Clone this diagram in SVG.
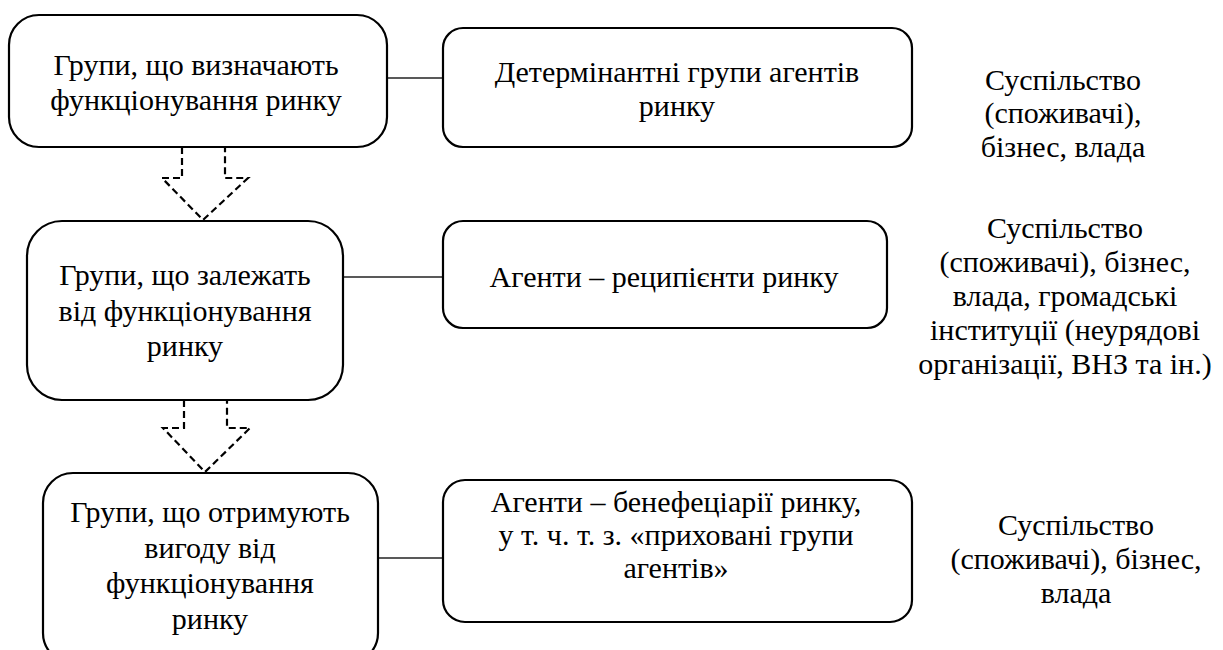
<svg xmlns="http://www.w3.org/2000/svg" width="1223" height="650" viewBox="0 0 1223 650">
<style>
.box{fill:#fff;stroke:#000;stroke-width:2.2}
text{font-family:'Liberation Serif','Times New Roman',serif;font-size:30px;fill:#000;text-anchor:middle}
.ln{stroke:#222;stroke-width:1.4;fill:none}
.arr{fill:none;stroke:#000;stroke-width:2.2;stroke-dasharray:7,4}
</style>
<rect width="1223" height="650" fill="#fff"/>
<g id="connectors">
<line class="ln" x1="387" y1="78" x2="443" y2="78"/>
<line class="ln" x1="343" y1="277" x2="443" y2="277"/>
<line class="ln" x1="378" y1="558" x2="443" y2="558"/>
<path class="arr" d="M182,147 V178 H162 L203,220 L248,178 H225 V147"/>
<path class="arr" d="M184,400 V428 H163 L205,472 L250,428 H227 V400"/>
</g>
<g id="n1">
<rect class="box" x="9" y="15" width="378" height="132" rx="30"/>
<text x="196" y="75">Групи, що визначають</text>
<text x="196" y="110">функціонування ринку</text>
</g>
<g id="n2">
<rect class="box" x="443" y="28" width="469" height="119" rx="20"/>
<text x="677" y="82">Детермінантні групи агентів</text>
<text x="677" y="116">ринку</text>
</g>
<g id="n3">
<text x="1063" y="90">Суспільство</text>
<text x="1063" y="123">(споживачі),</text>
<text x="1063" y="157">бізнес, влада</text>
</g>
<g id="n4">
<rect class="box" x="27" y="221" width="316" height="179" rx="35"/>
<text x="185" y="285">Групи, що залежать</text>
<text x="185" y="321">від функціонування</text>
<text x="185" y="356">ринку</text>
</g>
<g id="n5">
<rect class="box" x="443" y="221" width="444" height="107" rx="20"/>
<text x="664" y="287">Агенти – реципієнти ринку</text>
</g>
<g id="n6">
<text x="1065" y="238">Суспільство</text>
<text x="1065" y="272">(споживачі), бізнес,</text>
<text x="1065" y="306">влада, громадські</text>
<text x="1065" y="340">інституції (неурядові</text>
<text x="1065" y="374">організації, ВНЗ та ін.)</text>
</g>
<g id="n7">
<rect class="box" x="43" y="473" width="335" height="190" rx="30"/>
<text x="210" y="522">Групи, що отримують</text>
<text x="210" y="558">вигоду від</text>
<text x="210" y="593">функціонування</text>
<text x="210" y="629">ринку</text>
</g>
<g id="n8">
<rect class="box" x="443" y="480" width="469" height="142" rx="22"/>
<text x="676" y="512">Агенти – бенефеціарії ринку,</text>
<text x="676" y="545">у т. ч. т. з. «приховані групи</text>
<text x="676" y="578">агентів»</text>
</g>
<g id="n9">
<text x="1076" y="535">Суспільство</text>
<text x="1076" y="569">(споживачі), бізнес,</text>
<text x="1076" y="603">влада</text>
</g>
</svg>
